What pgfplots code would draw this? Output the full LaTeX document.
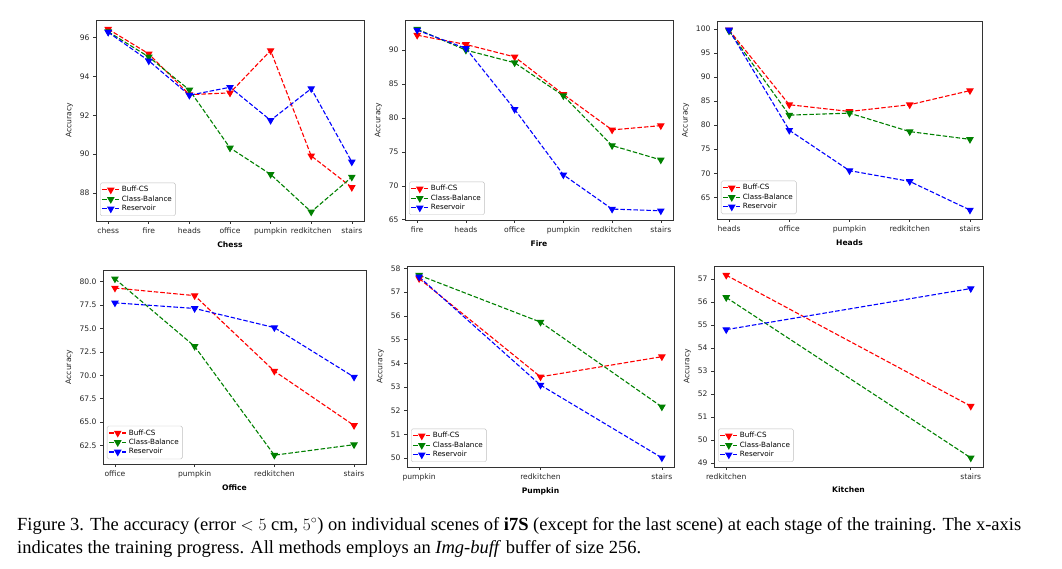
\documentclass[border=0pt]{standalone}
\usepackage{fontspec}
\setmainfont{DejaVu Sans}
\newfontfamily\timesfont{Liberation Serif}
\usepackage{pgfplots}
\pgfplotsset{compat=1.18}
\definecolor{mplgreen}{rgb}{0,0.5,0}
\pgfplotsset{
  panel/.style={
    scale only axis, anchor=north west,
    axis line style={black!80, line width=0.7pt},
    tick align=outside, major tick length=3pt,
    tick style={black!80, line width=0.6pt},
    xtick pos=bottom, ytick pos=left,
    ticklabel style={font=\fontsize{7.6}{9}\selectfont, text=black!85},
    ylabel={Accuracy},
    ylabel style={font=\fontsize{7.6}{9}\selectfont, text=black!85},
    xlabel style={font=\fontsize{7.6}{9}\selectfont\bfseries},
    /pgf/number format/assume math mode=true,
    legend cell align=left,
    legend style={at={(0.015,0.025)}, anchor=south west, draw=black!25,
      rounded corners=1.5pt, font=\fontsize{7.2}{8.5}\selectfont,
      inner sep=1.5pt, row sep=-1.5pt},
    legend image code/.code={
      \draw[mark repeat=2,mark phase=2,#1] plot coordinates {(0cm,0cm) (0.3cm,0cm) (0.6cm,0cm)};},
  },
  ser/.style={#1, line width=1.1pt, dash pattern=on 4.5pt off 2pt,
    mark=triangle*, mark size=3.4pt, mark options={rotate=180, solid, fill=#1, draw=#1}},
}
\begin{document}
\begin{tikzpicture}
\path[use as bounding box] (0,0) rectangle (1062pt,568pt);
% Chess
\begin{axis}[panel, at={(96pt,548pt)}, width=268pt, height=201pt,
  xmin=-0.3, xmax=6.3, ymin=86.56, ymax=96.9,
  xtick={0,...,6}, xticklabels={chess,fire,heads,office,pumpkin,redkitchen,stairs},
  ytick={88,90,92,94,96}, xlabel={Chess}]
\addplot[ser=red] coordinates {(0,96.43)(1,95.16)(2,93.06)(3,93.15)(4,95.33)(5,89.91)(6,88.29)};
\addplot[ser=mplgreen] coordinates {(0,96.30)(1,95.00)(2,93.30)(3,90.32)(4,88.96)(5,87.03)(6,88.82)};
\addplot[ser=blue] coordinates {(0,96.27)(1,94.80)(2,93.03)(3,93.44)(4,91.74)(5,93.37)(6,89.60)};
\legend{Buff-CS,Class-Balance,Reservoir}
\end{axis}
% Fire
\begin{axis}[panel, at={(405pt,548pt)}, width=268pt, height=200pt,
  xmin=-0.25, xmax=5.25, ymin=64.96, ymax=94.44,
  xtick={0,...,5}, xticklabels={fire,heads,office,pumpkin,redkitchen,stairs},
  ytick={65,70,...,90}, xlabel={Fire}]
\addplot[ser=red] coordinates {(0,92.20)(1,90.83)(2,89.00)(3,83.48)(4,78.24)(5,78.87)};
\addplot[ser=mplgreen] coordinates {(0,93.09)(1,90.00)(2,88.14)(3,83.28)(4,75.93)(5,73.82)};
\addplot[ser=blue] coordinates {(0,92.94)(1,90.25)(2,81.27)(3,71.62)(4,66.57)(5,66.32)};
\legend{Buff-CS,Class-Balance,Reservoir}
\end{axis}
% Heads
\begin{axis}[panel, at={(717pt,547pt)}, width=265pt, height=198pt,
  xmin=-0.2, xmax=4.2, ymin=60.48, ymax=101.67,
  xtick={0,...,4}, xticklabels={heads,office,pumpkin,redkitchen,stairs},
  ytick={65,70,...,100}, xlabel={Heads}]
\addplot[ser=red] coordinates {(0,99.80)(1,84.25)(2,82.85)(3,84.25)(4,87.19)};
\addplot[ser=mplgreen] coordinates {(0,99.60)(1,82.09)(2,82.50)(3,78.66)(4,77.05)};
\addplot[ser=blue] coordinates {(0,99.80)(1,78.94)(2,70.54)(3,68.30)(4,62.35)};
\legend{Buff-CS,Class-Balance,Reservoir}
\end{axis}
% Office
\begin{axis}[panel, at={(103pt,298pt)}, width=263pt, height=194pt,
  xmin=-0.15, xmax=3.15, ymin=60.54, ymax=81.22,
  xtick={0,...,3}, xticklabels={office,pumpkin,redkitchen,stairs},
  ytick={62.5,65,...,80}, yticklabel style={/pgf/number format/.cd, fixed, fixed zerofill, precision=1},
  xlabel={Office}]
\addplot[ser=red] coordinates {(0,79.30)(1,78.49)(2,70.44)(3,64.65)};
\addplot[ser=mplgreen] coordinates {(0,80.28)(1,73.08)(2,61.48)(3,62.60)};
\addplot[ser=blue] coordinates {(0,77.72)(1,77.12)(2,75.08)(3,69.81)};
\legend{Buff-CS,Class-Balance,Reservoir}
\end{axis}
% Pumpkin
\begin{axis}[panel, at={(407pt,302pt)}, width=267pt, height=201pt,
  xmin=-0.1, xmax=2.1, ymin=49.62, ymax=58.11,
  xtick={0,1,2}, xticklabels={pumpkin,redkitchen,stairs},
  ytick={50,51,...,58}, xlabel={Pumpkin}]
\addplot[ser=red] coordinates {(0,57.58)(1,53.43)(2,54.28)};
\addplot[ser=mplgreen] coordinates {(0,57.72)(1,55.74)(2,52.16)};
\addplot[ser=blue] coordinates {(0,57.65)(1,53.08)(2,50.01)};
\legend{Buff-CS,Class-Balance,Reservoir}
\end{axis}
% Kitchen
\begin{axis}[panel, at={(714pt,302pt)}, width=269pt, height=201pt,
  xmin=-0.05, xmax=1.05, ymin=48.82, ymax=57.57,
  xtick={0,1}, xticklabels={redkitchen,stairs},
  ytick={49,50,...,57}, xlabel={Kitchen}]
\addplot[ser=red] coordinates {(0,57.17)(1,51.47)};
\addplot[ser=mplgreen] coordinates {(0,56.20)(1,49.22)};
\addplot[ser=blue] coordinates {(0,54.80)(1,56.59)};
\legend{Buff-CS,Class-Balance,Reservoir}
\end{axis}
% caption
\node[anchor=base west, inner sep=0pt, font=\timesfont\fontsize{18.5}{23}\selectfont] at (17pt,38pt)
  {Figure 3. The accuracy (error $<5$ cm, $5^\circ$) on individual scenes of \textbf{i7S} (except for the last scene) at each stage of the training. The x-axis};
\node[anchor=base west, inner sep=0pt, font=\timesfont\fontsize{18.5}{23}\selectfont] at (17pt,15pt)
  {indicates the training progress. All methods employs an \textit{Img-buff} buffer of size 256.};
\end{tikzpicture}
\end{document}
